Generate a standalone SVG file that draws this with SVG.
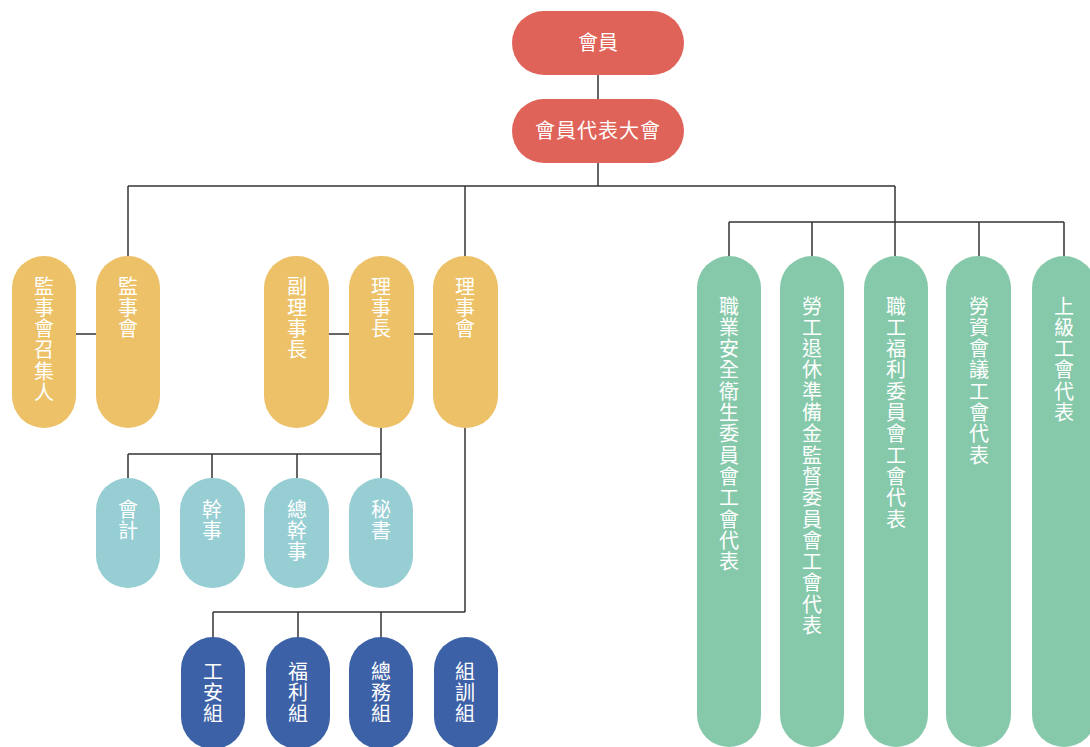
<svg xmlns="http://www.w3.org/2000/svg" width="1090" height="747" viewBox="0 0 1090 747">
<style>
.lbl{font-family:"Noto Sans CJK TC","Noto Sans CJK SC",sans-serif;font-size:20px;fill:#ffffff;text-anchor:middle}
.v{font-family:"Noto Sans CJK TC","Noto Sans CJK SC",sans-serif;font-size:20px;fill:#ffffff;writing-mode:vertical-rl;text-orientation:upright;letter-spacing:1.3px}
.red{fill:#E06359}.yel{fill:#ECC167}.teal{fill:#96CED3}.blue{fill:#3D61A6}.grn{fill:#85C9AA}
.conn{stroke:#333333;stroke-width:1.5;fill:none}
</style>
<rect width="1090" height="747" fill="#ffffff"/>
<g id="connectors" class="conn">
<path d="M598 75V99"/>
<path d="M598 163V186"/>
<path d="M128 186H895"/>
<path d="M128 186V256"/>
<path d="M465 186V256"/>
<path d="M895 186V256"/>
<path d="M729 222H1064"/>
<path d="M729 222V256M812 222V256M979 222V256M1064 222V256"/>
<path d="M76 334H96"/>
<path d="M329 334H349M414 334H433"/>
<path d="M381 428V454"/>
<path d="M128 454H381"/>
<path d="M128 454V478M212 454V478M297 454V478M381 454V478"/>
<path d="M465 428V612"/>
<path d="M213 612H465"/>
<path d="M213 612V637M298 612V637M381 612V637"/>
</g>
<g id="n-member"><rect class="red" x="512" y="11" width="172" height="64" rx="32"/><text class="lbl" x="598" y="50">會員</text></g>
<g id="n-assembly"><rect class="red" x="512" y="99" width="172" height="64" rx="32"/><text class="lbl" x="598" y="138" letter-spacing="1">會員代表大會</text></g>

<g id="n-sup-convener"><rect class="yel" x="12" y="256" width="64" height="172" rx="32"/><text class="v" x="44" y="276">監事會召集人</text></g>
<g id="n-supervisors"><rect class="yel" x="96" y="256" width="64" height="172" rx="32"/><text class="v" x="128" y="276">監事會</text></g>
<g id="n-vice-chair"><rect class="yel" x="264" y="256" width="65" height="172" rx="32"/><text class="v" x="297" y="276">副理事長</text></g>
<g id="n-chair"><rect class="yel" x="349" y="256" width="65" height="172" rx="32"/><text class="v" x="381" y="276">理事長</text></g>
<g id="n-board"><rect class="yel" x="433" y="256" width="65" height="172" rx="32"/><text class="v" x="465" y="276">理事會</text></g>

<g id="n-accountant"><rect class="teal" x="96" y="478" width="64" height="110" rx="32"/><text class="v" x="128" y="499">會計</text></g>
<g id="n-officer"><rect class="teal" x="180" y="478" width="65" height="110" rx="32"/><text class="v" x="212" y="499">幹事</text></g>
<g id="n-chief-officer"><rect class="teal" x="264" y="478" width="65" height="110" rx="32"/><text class="v" x="297" y="499">總幹事</text></g>
<g id="n-secretary"><rect class="teal" x="349" y="478" width="64" height="110" rx="32"/><text class="v" x="381" y="499">秘書</text></g>

<g id="n-safety"><rect class="blue" x="181" y="637" width="64" height="112" rx="32"/><text class="v" x="213" y="661">工安組</text></g>
<g id="n-welfare"><rect class="blue" x="266" y="637" width="64" height="112" rx="32"/><text class="v" x="298" y="661">福利組</text></g>
<g id="n-general"><rect class="blue" x="349" y="637" width="64" height="112" rx="32"/><text class="v" x="381" y="661">總務組</text></g>
<g id="n-training"><rect class="blue" x="434" y="637" width="64" height="112" rx="32"/><text class="v" x="465" y="661">組訓組</text></g>

<g id="n-osh"><rect class="grn" x="697" y="256" width="64" height="491" rx="32"/><text class="v" x="729" y="296">職業安全衛生委員會工會代表</text></g>
<g id="n-pension"><rect class="grn" x="780" y="256" width="64" height="491" rx="32"/><text class="v" x="812" y="296">勞工退休準備金監督委員會工會代表</text></g>
<g id="n-welfare-comm"><rect class="grn" x="864" y="256" width="64" height="491" rx="32"/><text class="v" x="896" y="296">職工福利委員會工會代表</text></g>
<g id="n-labor-mgmt"><rect class="grn" x="946" y="256" width="65" height="491" rx="32"/><text class="v" x="979" y="296">勞資會議工會代表</text></g>
<g id="n-upper-union"><rect class="grn" x="1032" y="256" width="64" height="491" rx="32"/><text class="v" x="1064" y="296">上級工會代表</text></g>
</svg>
